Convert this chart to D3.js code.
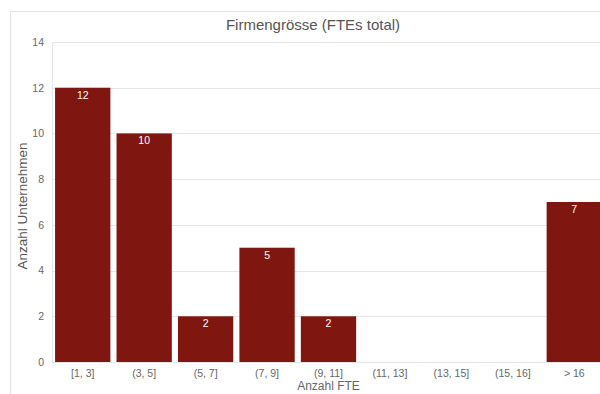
<!DOCTYPE html>
<html>
<head>
<meta charset="utf-8">
<script src="https://cdn.jsdelivr.net/npm/d3@7"></script>
<style>
  html, body { margin: 0; padding: 0; background: #fff; }
  svg { display: block; font-family: "Liberation Sans", Arial, sans-serif; }
</style>
</head>
<body>
<svg id="chart" width="600" height="394"></svg>
<script>
// Company size distribution (FTE buckets)
const categories = ["[1, 3]", "(3, 5]", "(5, 7]", "(7, 9]", "(9, 11]", "(11, 13]", "(13, 15]", "(15, 16]", "> 16"];
const counts = [12, 10, 2, 5, 2, 0, 0, 0, 7];
const yTicks = [0, 2, 4, 6, 8, 10, 12, 14];

const titleText = "Firmengrösse (FTEs total)";
const xTitle = "Anzahl FTE";
const yTitle = "Anzahl Unternehmen";

const svg = d3.select("#chart");
const plot = { left: 52, right: 605, top: 42, bottom: 362 };

// outer frame
svg.append("rect")
  .attr("x", 10.5).attr("y", 11.5)
  .attr("width", 620).attr("height", 400)
  .attr("fill", "none").attr("stroke", "#e2e2e2");

const x = d3.scaleBand().domain(categories).range([plot.left, plot.right]).paddingInner(0.1).paddingOuter(0.05);
const y = d3.scaleLinear().domain([0, 14]).range([plot.bottom, plot.top]);

// grid lines
svg.append("g").selectAll("line").data(yTicks).join("line")
  .attr("x1", plot.left).attr("x2", 620)
  .attr("y1", d => Math.round(y(d)) + 0.5).attr("y2", d => Math.round(y(d)) + 0.5)
  .attr("stroke", "#e6e6e6");
svg.append("line")
  .attr("x1", plot.left + 0.5).attr("x2", plot.left + 0.5)
  .attr("y1", plot.top).attr("y2", plot.bottom)
  .attr("stroke", "#e6e6e6");

// y axis labels
const yAxis = d3.axisLeft(y).tickValues(yTicks).tickSize(0).tickPadding(8);
const gy = svg.append("g").attr("transform", `translate(${plot.left},0)`).call(yAxis);
gy.select(".domain").remove();
gy.selectAll("text").attr("fill", "#666").attr("font-size", 10.5).attr("font-family", "Liberation Sans, Arial, sans-serif");

// x axis labels
const xAxis = d3.axisBottom(x).tickSize(0).tickPadding(8);
const gx = svg.append("g").attr("transform", `translate(0,${plot.bottom})`).call(xAxis);
gx.select(".domain").remove();
gx.selectAll("text").attr("fill", "#666").attr("font-size", 10.5).attr("font-family", "Liberation Sans, Arial, sans-serif");

// bars
const data = categories.map((c, i) => ({ c, v: counts[i] }));
svg.append("g").selectAll("rect").data(data.filter(d => d.v > 0)).join("rect")
  .attr("x", d => x(d.c))
  .attr("y", d => y(d.v))
  .attr("width", x.bandwidth())
  .attr("height", d => y(0) - y(d.v))
  .attr("fill", "#7f1710");

// value labels
svg.append("g").selectAll("text").data(data.filter(d => d.v > 0)).join("text")
  .attr("x", d => x(d.c) + x.bandwidth() / 2)
  .attr("y", d => y(d.v) + 11)
  .attr("text-anchor", "middle")
  .attr("fill", "#fff")
  .attr("font-size", 10.5)
  .text(d => d.v);

// titles
svg.append("text")
  .attr("x", 313).attr("y", 30)
  .attr("text-anchor", "middle")
  .attr("fill", "#555").attr("font-size", 15)
  .text(titleText);

svg.append("text")
  .attr("x", (plot.left + plot.right) / 2).attr("y", 390)
  .attr("text-anchor", "middle")
  .attr("fill", "#666").attr("font-size", 12)
  .text(xTitle);

svg.append("text")
  .attr("transform", `translate(27,${(plot.top + plot.bottom) / 2 + 4}) rotate(-90)`)
  .attr("text-anchor", "middle")
  .attr("fill", "#555").attr("font-size", 13.5)
  .text(yTitle);
</script>
</body>
</html>
